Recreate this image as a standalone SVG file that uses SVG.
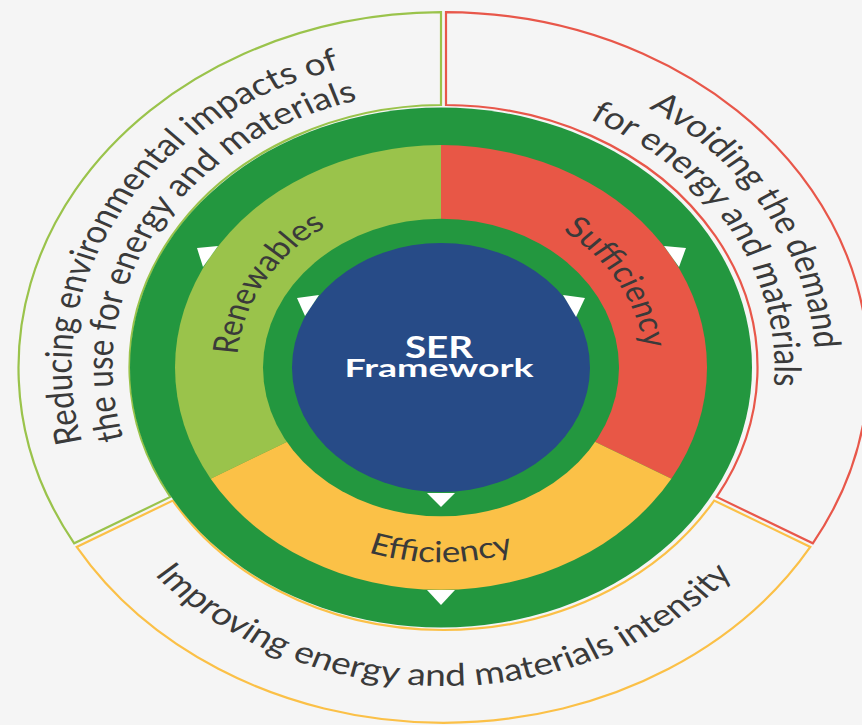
<svg xmlns="http://www.w3.org/2000/svg" width="862" height="725" viewBox="0 0 862 725">
  <defs>
    <style>
      .lbl { font-family: Lato, "Open Sans", "DejaVu Sans", sans-serif; fill: #3a3a3a; }
      .outer-lbl { font-size: 37px; }
      .inner-lbl { font-size: 35px; }
      .core-lbl { font-family: Lato, "Open Sans", "DejaVu Sans", sans-serif; font-weight: 700; fill: #ffffff; text-anchor: middle; }
      .band { fill: none; stroke-width: 2.2; vector-effect: non-scaling-stroke; }
      .tri { fill: #ffffff; }
    </style>
    <!-- baselines for the curved labels (circle space, centre at origin) -->
    <path id="arc-tl-1" d="M -213.37 304.72 A 372 372 0 0 1 157.21 -337.15"/>
    <path id="arc-tl-2" d="M -189.86 271.14 A 331 331 0 0 1 139.89 -299.99"/>
    <path id="arc-tr-1" d="M -157.21 -337.15 A 372 372 0 0 1 213.37 304.72"/>
    <path id="arc-tr-2" d="M -139.89 -299.99 A 331 331 0 0 1 189.86 271.14"/>
    <path id="arc-bot" d="M -379.55 33.21 A 381 381 0 0 0 379.55 33.21"/>
    <path id="arc-ren" d="M -117.01 167.11 A 204 204 0 0 1 86.21 -184.88"/>
    <path id="arc-suf" d="M -86.21 -184.88 A 204 204 0 0 1 117.01 167.11"/>
    <path id="arc-eff" d="M -232.11 20.31 A 233 233 0 0 0 232.11 20.31"/>
  </defs>

  <rect width="862" height="725" fill="#f5f5f5"/>

  <!-- outer band: three outlined sectors with their goal statements -->
  <g id="outer-band" transform="translate(443.5 367.5) scale(1 0.836)">
    <g id="goal-environment">
      <path class="band" stroke="#9ac34b" d="M -369.31 210.33 A 425 425 0 0 1 -2.5 -425 L -2.5 -314 A 314 314 0 0 0 -273.18 154.83 Z"/>
      <text class="lbl outer-lbl"><textPath href="#arc-tl-1" startOffset="50%" text-anchor="middle">Reducing environmental impacts of</textPath></text>
      <text class="lbl outer-lbl"><textPath href="#arc-tl-2" startOffset="50%" text-anchor="middle">the use for energy and materials</textPath></text>
    </g>
    <g id="goal-demand">
      <path class="band" stroke="#e8574a" d="M 2.5 -425 A 425 425 0 0 1 369.31 210.33 L 273.18 154.83 A 314 314 0 0 0 2.5 -314 Z"/>
      <text class="lbl outer-lbl"><textPath href="#arc-tr-1" startOffset="50%" text-anchor="middle">Avoiding the demand</textPath></text>
      <text class="lbl outer-lbl"><textPath href="#arc-tr-2" startOffset="50%" text-anchor="middle">for energy and materials</textPath></text>
    </g>
    <g id="goal-intensity">
      <path class="band" stroke="#fbc047" d="M 366.80 214.66 A 425 425 0 0 1 -366.80 214.66 L -270.67 159.16 A 314 314 0 0 0 270.67 159.16 Z"/>
      <text class="lbl outer-lbl"><textPath href="#arc-bot" startOffset="50%" text-anchor="middle">Improving energy and materials intensity</textPath></text>
    </g>
  </g>

  <!-- green ring, coloured pillars and core -->
  <g id="wheel" transform="translate(441 367.5) scale(1 0.836)">
    <circle id="ring-outer" r="311" fill="#23973f"/>
    <g id="renewables">
      <path fill="#9ac34b" d="M 0 0 L -230.36 133 A 266 266 0 0 1 0 -266 Z"/>
    </g>
    <g id="sufficiency">
      <path fill="#e85746" d="M 0 0 L 0 -266 A 266 266 0 0 1 230.36 133 Z"/>
    </g>
    <g id="efficiency">
      <path fill="#fbc147" d="M 0 0 L 230.36 133 A 266 266 0 0 1 -230.36 133 Z"/>
    </g>
    <circle id="ring-inner" r="178" fill="#23973f"/>
    <text class="lbl inner-lbl"><textPath href="#arc-ren" startOffset="50%" text-anchor="middle">Renewables</textPath></text>
    <text class="lbl inner-lbl"><textPath href="#arc-suf" startOffset="50%" text-anchor="middle">Sufficiency</textPath></text>
    <text class="lbl inner-lbl"><textPath href="#arc-eff" startOffset="50%" text-anchor="middle">Efficiency</textPath></text>
    <g id="core">
      <circle r="149" fill="#274b87"/>
      <text class="core-lbl" x="-2" y="-11.4" font-size="36" textLength="68" lengthAdjust="spacingAndGlyphs">SER</text>
      <text class="core-lbl" x="-2" y="11.4" font-size="30" textLength="189" lengthAdjust="spacingAndGlyphs">Framework</text>
    </g>
  </g>

  <!-- white flow markers -->
  <g id="connectors">
    <polygon class="tri" points="197,248 218,246 203,267"/>
    <polygon class="tri" points="664,246 686,248 679,267"/>
    <polygon class="tri" points="427,590 455,590 441,605"/>
    <polygon class="tri" points="297,298 319,295 305,316"/>
    <polygon class="tri" points="563,295 585,298 576,317"/>
    <polygon class="tri" points="427,493 455,493 441,507"/>
  </g>
</svg>
